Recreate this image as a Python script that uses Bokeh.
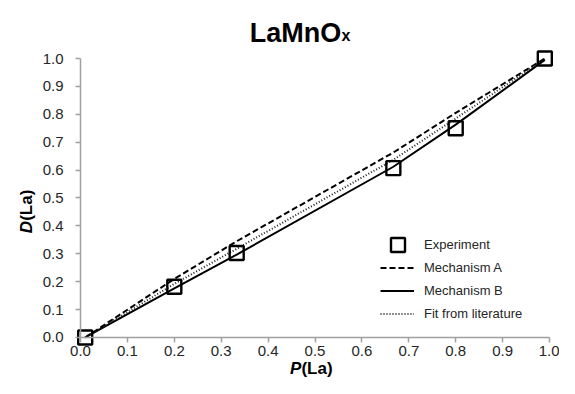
import math
from bokeh.plotting import figure
from bokeh.models import Range1d, Label, Legend, LegendItem, FixedTicker
from bokeh.embed import file_html
from bokeh.resources import INLINE

# ---- data ----
p_exp = [0.01, 0.2, 0.333, 0.667, 0.8, 0.99]
d_exp = [0.0, 0.182, 0.303, 0.607, 0.75, 1.0]

p_model = [0.01, 0.2, 0.333, 0.667, 0.8, 0.99]
d_mech_a = [0.0, 0.21, 0.345, 0.663, 0.805, 1.0]
d_mech_b = [0.0, 0.176, 0.297, 0.612, 0.763, 0.995]
d_fit = [0.0, 0.192, 0.318, 0.637, 0.785, 0.998]

ticks = [0.0, 0.1, 0.2, 0.3, 0.4, 0.5, 0.6, 0.7, 0.8, 0.9, 1.0]
tick_labels = {t: f"{t:.1f}" for t in ticks}

FONT = "Liberation Sans"
TXT = "#262626"
AX = "#a0a0a0"

# The frame covers the whole canvas; axes sit at data 0 (fixed_location)
p = figure(width=559, height=378, output_backend="svg", toolbar_location=None,
           x_range=Range1d(-0.1706, 1.0213), y_range=Range1d(-0.147, 1.2079),
           min_border=0)
p.outline_line_color = None
p.grid.visible = False
p.background_fill_color = "white"
p.border_fill_color = "white"

for ax in (p.xaxis[0], p.yaxis[0]):
    ax.fixed_location = 0
    ax.bounds = (0, 1)
    ax.ticker = FixedTicker(ticks=ticks)
    ax.major_label_overrides = tick_labels
    ax.minor_tick_line_color = None
    ax.axis_line_color = AX
    ax.axis_line_width = 1.5
    ax.major_tick_line_color = AX
    ax.major_tick_line_width = 1.5
    ax.major_tick_in = 0
    ax.major_tick_out = 5
    ax.major_label_text_font = FONT
    ax.major_label_text_font_size = "15px"
    ax.major_label_text_color = TXT
p.xaxis[0].major_label_standoff = 4
p.yaxis[0].major_label_standoff = 12

r_a = p.line(p_model, d_mech_a, line_color="black", line_width=2, line_dash="6 3")
r_b = p.line(p_model, d_mech_b, line_color="black", line_width=2)
r_f = p.line(p_model, d_fit, line_color="#222222", line_width=2, line_dash="1 2")
r_e = p.scatter(p_exp, d_exp, marker="square", size=14, line_color="black",
                line_width=2.4, fill_alpha=0)


def style_legend(lg, gw, gh, standoff, spacing):
    lg.padding = 0
    lg.margin = 0
    lg.spacing = spacing
    lg.label_height = 17
    lg.glyph_height = gh
    lg.glyph_width = gw
    lg.label_standoff = standoff
    lg.label_text_font = FONT
    lg.label_text_font_size = "13px"
    lg.label_text_color = TXT
    lg.border_line_color = None
    lg.background_fill_alpha = 0


leg1 = Legend(items=[LegendItem(label="Experiment", renderers=[r_e])], location=(380, 116))
style_legend(leg1, 35, 35, 9, 0)
leg2 = Legend(items=[
    LegendItem(label="Mechanism A", renderers=[r_a]),
    LegendItem(label="Mechanism B", renderers=[r_b]),
    LegendItem(label="Fit from literature", renderers=[r_f]),
], location=(380, 56))
style_legend(leg2, 34, 17, 10, 6)
p.add_layout(leg1, "center")
p.add_layout(leg2, "center")

# title with subscript
p.add_layout(Label(x=0.361, y=1.091, text="LaMnO", text_font=FONT, text_font_size="27px",
                   text_font_style="bold", text_color="black", text_align="left",
                   text_baseline="alphabetic"))
p.add_layout(Label(x=0.5565, y=1.0836, text="x", text_font=FONT, text_font_size="16px",
                   text_font_style="bold", text_color="black", text_align="left",
                   text_baseline="alphabetic"))

# axis titles (italic variable + bold argument)
p.add_layout(Label(x=0.471, y=-0.111, text="P", text_font=FONT, text_font_size="17px",
                   text_font_style="bold italic", text_color="black", text_align="right",
                   text_baseline="middle"))
p.add_layout(Label(x=0.471, y=-0.111, text="(La)", text_font=FONT, text_font_size="17px",
                   text_font_style="bold", text_color="black", text_align="left",
                   text_baseline="middle"))
p.add_layout(Label(x=-0.116, y=0.418, text="D", text_font=FONT, text_font_size="17px",
                   text_font_style="bold italic", text_color="black", text_align="right",
                   text_baseline="middle", angle=math.pi / 2))
p.add_layout(Label(x=-0.116, y=0.418, text="(La)", text_font=FONT, text_font_size="17px",
                   text_font_style="bold", text_color="black", text_align="left",
                   text_baseline="middle", angle=math.pi / 2))

open("out.html", "w").write(file_html(p, INLINE))
